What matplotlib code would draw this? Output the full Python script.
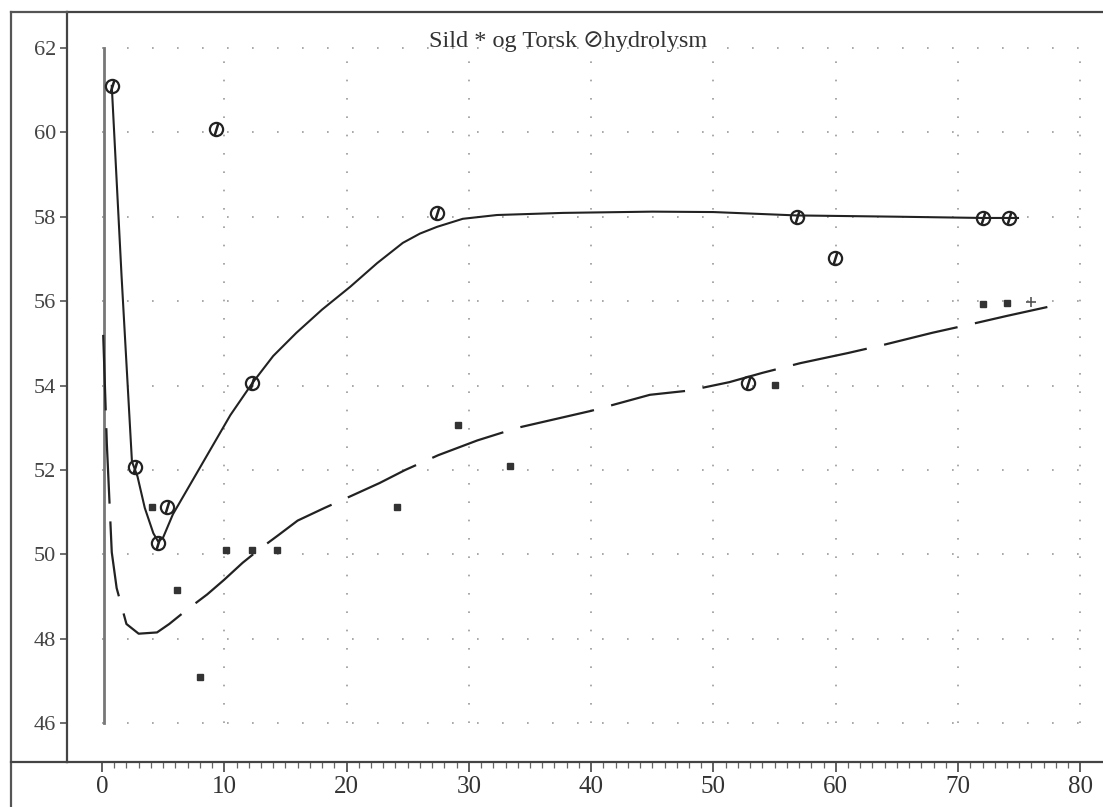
import matplotlib
matplotlib.use('Agg')
import matplotlib.pyplot as plt
from matplotlib.lines import Line2D
import numpy as np

# maalte punkter (Torsk = ringar, Sild = stjerner)
torsk_x = [0.8, 2.7, 4.6, 5.3, 9.3, 12.3, 27.4, 52.8, 56.8, 59.9, 72.0, 74.2]
torsk_y = [61.1, 52.07, 50.27, 51.12, 60.08, 54.06, 58.09, 54.06, 58.0, 57.02, 57.97, 57.97]

sild_x = [4.1, 6.1, 8.0, 10.1, 12.3, 14.3, 24.1, 29.1, 33.4, 55.0, 72.0, 74.0, 76.0]
sild_y = [51.12, 49.15, 47.1, 50.1, 50.1, 50.1, 51.12, 53.06, 52.09, 54.01, 55.93, 55.95, 55.98]

# tilpassa kurver
torsk_kurve_x = [0.8, 1.6, 2.45, 2.9, 3.5, 4.2, 4.6, 5.0, 5.8, 7.5, 9.1, 10.5, 12.3, 14.0,
                 15.9, 18.0, 20.3, 22.5, 24.6, 26.0, 27.4, 29.5, 32.3, 37.7, 45.0, 50.0,
                 56.8, 65.0, 72.0, 74.9]
torsk_kurve_y = [61.1, 56.6, 52.2, 51.85, 51.1, 50.5, 50.3, 50.4, 50.95, 51.8, 52.6, 53.3,
                 54.06, 54.7, 55.25, 55.8, 56.34, 56.9, 57.38, 57.6, 57.76, 57.95, 58.04,
                 58.09, 58.12, 58.11, 58.03, 58.0, 57.97, 57.97]

sild_kurve_x = [0.1, 0.4, 0.8, 1.2, 2.0, 3.0, 4.5, 5.5, 7.0, 8.6, 10.0, 11.5, 13.0, 14.4,
                16.0, 18.2, 20.5, 22.7, 24.8, 27.5, 30.7, 34.0, 37.0, 40.0, 44.8, 48.0,
                51.3, 54.0, 57.1, 61.0, 64.0, 67.9, 71.0, 74.0, 77.3]
sild_kurve_y = [55.2, 52.6, 50.05, 49.2, 48.35, 48.12, 48.15, 48.35, 48.7, 49.05, 49.4,
                49.8, 50.15, 50.45, 50.8, 51.1, 51.4, 51.69, 52.0, 52.35, 52.7, 53.0, 53.2,
                53.4, 53.78, 53.88, 54.08, 54.3, 54.53, 54.77, 54.97, 55.25, 55.45, 55.65,
                55.86]

x_ticks = [0, 10, 20, 30, 40, 50, 60, 70, 80]
y_ticks = [46, 48, 50, 52, 54, 56, 58, 60, 62]
tittel = 'Sild * og Torsk \u2298hydrolysm'

serif = ['Liberation Serif', 'DejaVu Sans']

fig = plt.figure(figsize=(11.03, 8.07), dpi=100)
ax = fig.add_axes([67 / 1103, 1 - 762 / 807, 1 - 67 / 1103, 750 / 807])
ax.set_xlim(-2.86, 81.85)
ax.set_ylim(45.08, 62.85)

# prikka rutenett
ax.hlines(y_ticks, 0, 80, colors='#9a9a9a', linewidth=1.2, linestyles=(0, (1, 14)))
ax.vlines(x_ticks[1:], 46, 62, colors='#9a9a9a', linewidth=1.2, linestyles=(0, (1, 10)))
ax.plot([0.2, 0.2], [46, 62], color='#777777', linewidth=2)

ax.plot(torsk_kurve_x, torsk_kurve_y, color='#222222', linewidth=1.5)
ax.plot(sild_kurve_x, sild_kurve_y, color='#222222', linewidth=1.6,
        linestyle=(0, (34, 8)))

ax.plot(torsk_x, torsk_y, linestyle='none', marker='o', markersize=9.5,
        markerfacecolor='none', markeredgecolor='#222222', markeredgewidth=1.6)
ax.plot(torsk_x, torsk_y, linestyle='none', marker=r'$/$', markersize=8.5,
        color='#222222')
ax.plot(sild_x[:-1], sild_y[:-1], linestyle='none', marker='s', markersize=4.5,
        color='#333333')
ax.plot(sild_x[-1:], sild_y[-1:], linestyle='none', marker='+', markersize=7,
        color='#555555', markeredgewidth=1.2)

ax.set_xticks(x_ticks)
ax.set_xticks(np.arange(0, 81, 1), minor=True)
ax.set_yticks(y_ticks)
ax.set_xticklabels([str(v) for v in x_ticks], family=serif, fontsize=18, color='#333333')
ax.set_yticklabels([str(v) for v in y_ticks], family=serif, fontsize=16, color='#444444')
ax.tick_params(axis='x', which='major', direction='out', length=7, width=1.2, pad=3,
               color='#444444')
ax.tick_params(axis='x', which='minor', direction='out', length=4, width=0.9,
               color='#666666')
ax.tick_params(axis='y', direction='out', length=5, width=1.2, pad=3, color='#555555')

ax.spines['right'].set_visible(False)
for side in ['left', 'bottom', 'top']:
    ax.spines[side].set_color('#444444')
    ax.spines[side].set_linewidth(1.6)

# ytre ramme fra skannet
fig.add_artist(Line2D([11 / 1103, 11 / 1103], [0, 1 - 12 / 807], color='#555555',
                      linewidth=1.6))
fig.add_artist(Line2D([11 / 1103, 67 / 1103], [1 - 762 / 807, 1 - 762 / 807],
                      color='#444444', linewidth=1.6))
fig.add_artist(Line2D([11 / 1103, 67 / 1103], [1 - 12 / 807, 1 - 12 / 807],
                      color='#555555', linewidth=1.6))

fig.text(568 / 1103, 1 - 42 / 807, tittel, family=serif, fontsize=17.5, color='#333333',
         ha='center', va='center')

fig.savefig('out.png', dpi=100)
